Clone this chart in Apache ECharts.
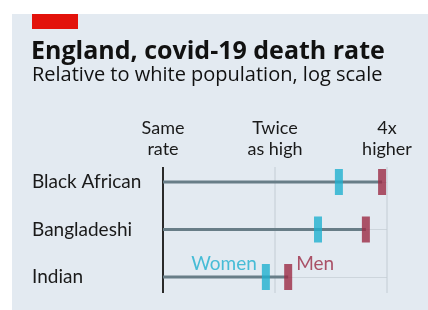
<!DOCTYPE html>
<html>
<head>
<meta charset="utf-8">
<script src="https://cdn.jsdelivr.net/npm/echarts@6/dist/echarts.min.js"></script>
<style>
  html, body { margin: 0; padding: 0; background: #fff; }
  #chart { width: 428px; height: 310px; }
</style>
</head>
<body>
<div id="chart"></div>
<script>
// data
const groups = ['Black African', 'Bangladeshi', 'Indian'];
const women = [2.97, 2.61, 1.89];
const men = [3.88, 3.51, 2.17];
const ticks = [1, 2, 4];
const tickLabels = ['Same\nrate', 'Twice\nas high', '4x\nhigher'];

const font = 'Lato';
const headFont = '"Open Sans"';
const teal = '#1fb0cf';
const maroon = '#9b2a45';

const chart = echarts.init(document.getElementById('chart'));

const option = {
    animation: false,
    backgroundColor: '#fff',
    textStyle: { fontFamily: font },
    graphic: [
        { type: 'rect', shape: { x: 12, y: 14, width: 416, height: 296 }, style: { fill: '#e3eaf1' }, z: -10 },
        { type: 'rect', shape: { x: 32, y: 14, width: 46, height: 15 }, style: { fill: '#e3120b' } },
        {
            type: 'text', x: 31, y: 52,
            style: { text: 'England, covid-19 death rate', font: 'bold 25px ' + headFont, fill: '#111', verticalAlign: 'middle' }
        },
        {
            type: 'text', x: 32, y: 75,
            style: { text: 'Relative to white population, log scale', font: '20px ' + headFont, fill: '#111', verticalAlign: 'middle' }
        }
    ],
    grid: { left: 163, right: 41, top: 182, bottom: 33 },
    xAxis: {
        type: 'log',
        logBase: 2,
        min: 1,
        max: 4,
        position: 'top',
        axisLine: { show: false },
        axisTick: { show: false },
        splitLine: { show: false },
        axisLabel: {
            margin: 22,
            fontSize: 18,
            lineHeight: 21,
            color: '#1a1a1a',
            formatter: function (v) {
                const i = ticks.indexOf(Math.round(v));
                return i >= 0 ? tickLabels[i] : '';
            }
        }
    },
    yAxis: {
        type: 'category',
        data: groups,
        inverse: true,
        boundaryGap: false,
        axisLine: { show: false },
        axisTick: { show: false },
        splitLine: { show: true, lineStyle: { color: '#cdd5dc', width: 1 } },
        axisLabel: { align: 'left', margin: 131, fontSize: 19, color: '#1a1a1a' }
    },
    series: [
        {
            // reference lines at 1x, 2x, 4x
            type: 'custom',
            clip: false,
            z: 1,
            data: ticks,
            renderItem: function (params, api) {
                const v = api.value(0);
                const top = api.coord([v, groups[0]]);
                const bot = api.coord([v, groups[groups.length - 1]]);
                const isBase = v === 1;
                return {
                    type: 'line',
                    shape: { x1: top[0], y1: top[1] - 15, x2: bot[0], y2: bot[1] + 16 },
                    style: { stroke: isBase ? '#2a2a2a' : '#c3ccd4', lineWidth: isBase ? 2 : 1 }
                };
            }
        },
        {
            // range line from 1 to men's value
            type: 'custom',
            z: 2,
            data: groups.map((g, i) => [men[i], g]),
            renderItem: function (params, api) {
                const end = api.coord([api.value(0), api.value(1)]);
                const start = api.coord([1, api.value(1)]);
                return {
                    type: 'line',
                    shape: { x1: start[0], y1: start[1], x2: end[0], y2: end[1] },
                    style: { stroke: '#687d87', lineWidth: 3 }
                };
            }
        },
        {
            name: 'Women',
            type: 'scatter',
            z: 3,
            symbol: 'rect',
            symbolSize: [8, 26],
            itemStyle: { color: teal },
            data: groups.map((g, i) => {
                const d = { value: [women[i], g] };
                if (i === groups.length - 1) {
                    d.label = {
                        show: true, formatter: 'Women', position: 'left', distance: 5,
                        offset: [0, -13], fontSize: 19, color: teal
                    };
                }
                return d;
            })
        },
        {
            name: 'Men',
            type: 'scatter',
            z: 3,
            symbol: 'rect',
            symbolSize: [8, 26],
            itemStyle: { color: maroon },
            data: groups.map((g, i) => {
                const d = { value: [men[i], g] };
                if (i === groups.length - 1) {
                    d.label = {
                        show: true, formatter: 'Men', position: 'right', distance: 4,
                        offset: [0, -13], fontSize: 19, color: maroon
                    };
                }
                return d;
            })
        }
    ]
};
chart.setOption(option);
</script>
</body>
</html>
